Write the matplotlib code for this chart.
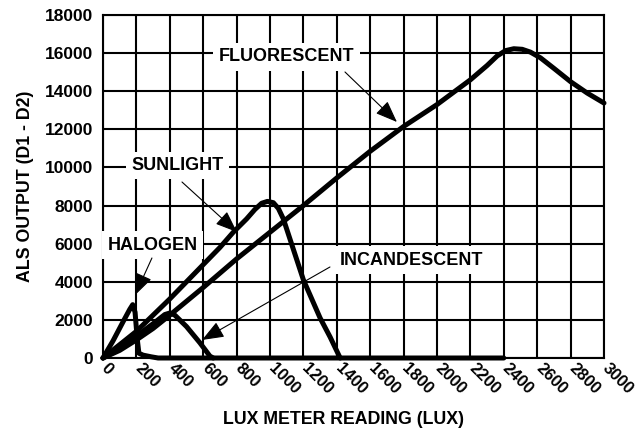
import matplotlib
matplotlib.use("Agg")
import matplotlib.pyplot as plt
from matplotlib.transforms import ScaledTranslation

plt.rcParams['font.family'] = ['Liberation Sans', 'DejaVu Sans']
plt.rcParams['font.weight'] = 'bold'

# ---- data ----
fluor_x = [0, 100, 200, 300, 400, 600, 800, 1000, 1200, 1400, 1600, 1800, 2000, 2200, 2300, 2360, 2410, 2460, 2510, 2560, 2620, 2700, 2800, 2900, 3000]
fluor_y = [0, 400, 950, 1550, 2250, 3700, 5200, 6600, 8000, 9450, 10850, 12150, 13300, 14600, 15350, 15850, 16130, 16230, 16200, 16050, 15750, 15200, 14500, 13900, 13380]

sun_x = [0, 200, 400, 600, 700, 780, 860, 910, 950, 985, 1020, 1050, 1080, 1110, 1140, 1200, 1300, 1360, 1420]
sun_y = [0, 1400, 3100, 4900, 5800, 6600, 7300, 7800, 8120, 8220, 8150, 7850, 7300, 6500, 5700, 4100, 2100, 1100, 0]

halo_x = [0, 60, 120, 160, 178, 192, 205, 215, 240, 290, 330, 2400]
halo_y = [0, 900, 1900, 2550, 2800, 2400, 1000, 250, 150, 60, 0, 0]

inc_x = [0, 100, 200, 300, 370, 400, 430, 500, 580, 640, 660]
inc_y = [0, 500, 1150, 1800, 2280, 2360, 2250, 1650, 800, 100, 0]

x_ticks = list(range(0, 3001, 200))
y_ticks = list(range(0, 18001, 2000))

labels = ["FLUORESCENT", "SUNLIGHT", "HALOGEN", "INCANDESCENT"]
label_pos = [(1099, 15800), (446, 10100), (299, 5930), (1847, 5140)]
arrow_start = [(1449, 15010), (473, 9236), (293, 5248), (1359, 4776)]
arrow_tip = [(1760, 12385), (802, 6612), (192, 3300), (593, 945)]

# ---- figure ----
fig = plt.figure(figsize=(6.43, 4.28), dpi=100)
ax = fig.add_axes([103/643, 70/428, 501/643, 343/428])

ax.set_xlim(0, 3000)
ax.set_ylim(0, 18000)
ax.set_xticks(x_ticks)
ax.set_yticks(y_ticks)
ax.set_yticklabels([str(v) for v in y_ticks], fontsize=12.5, fontweight='bold')
ax.set_xticklabels([str(v) for v in x_ticks], fontsize=12, fontweight='bold',
                   rotation=-45, ha='left', va='center', rotation_mode='anchor')
ax.grid(True, color='black', lw=1.5)
ax.set_axisbelow(True)
for sp in ax.spines.values():
    sp.set_linewidth(1.5)
ax.tick_params(length=0, pad=7)

off = ScaledTranslation(1/100, 2/100, fig.dpi_scale_trans)
for lab in ax.get_xticklabels():
    lab.set_transform(lab.get_transform() + off)

lw = 3.6
kw = dict(color='black', lw=lw, solid_capstyle='round', solid_joinstyle='round', zorder=3, clip_on=False)
ax.plot(fluor_x, fluor_y, **kw)
ax.plot(sun_x, sun_y, **kw)
ax.plot(halo_x, halo_y, **kw)
ax.plot(inc_x, inc_y, **kw)

for lab, pos, st, tip in zip(labels, label_pos, arrow_start, arrow_tip):
    ax.text(pos[0], pos[1], lab, fontsize=13, fontweight='bold', ha='center', va='center',
            zorder=4, bbox=dict(boxstyle='square,pad=0.3', facecolor='white', edgecolor='none'))
    ax.annotate('', xy=tip, xytext=st, zorder=5,
                arrowprops=dict(arrowstyle='-|>,head_length=0.9,head_width=0.35', color='black',
                                lw=0.8, shrinkA=0, shrinkB=0, mutation_scale=15))

ax.set_xlabel("LUX METER READING (LUX)", fontsize=12.8, fontweight='bold', labelpad=2)
ax.set_ylabel("ALS OUTPUT (D1 - D2)", fontsize=12.8, fontweight='bold', labelpad=8)
ax.xaxis.set_label_coords(0.48, -0.155)

fig.savefig("out.png", dpi=100)
